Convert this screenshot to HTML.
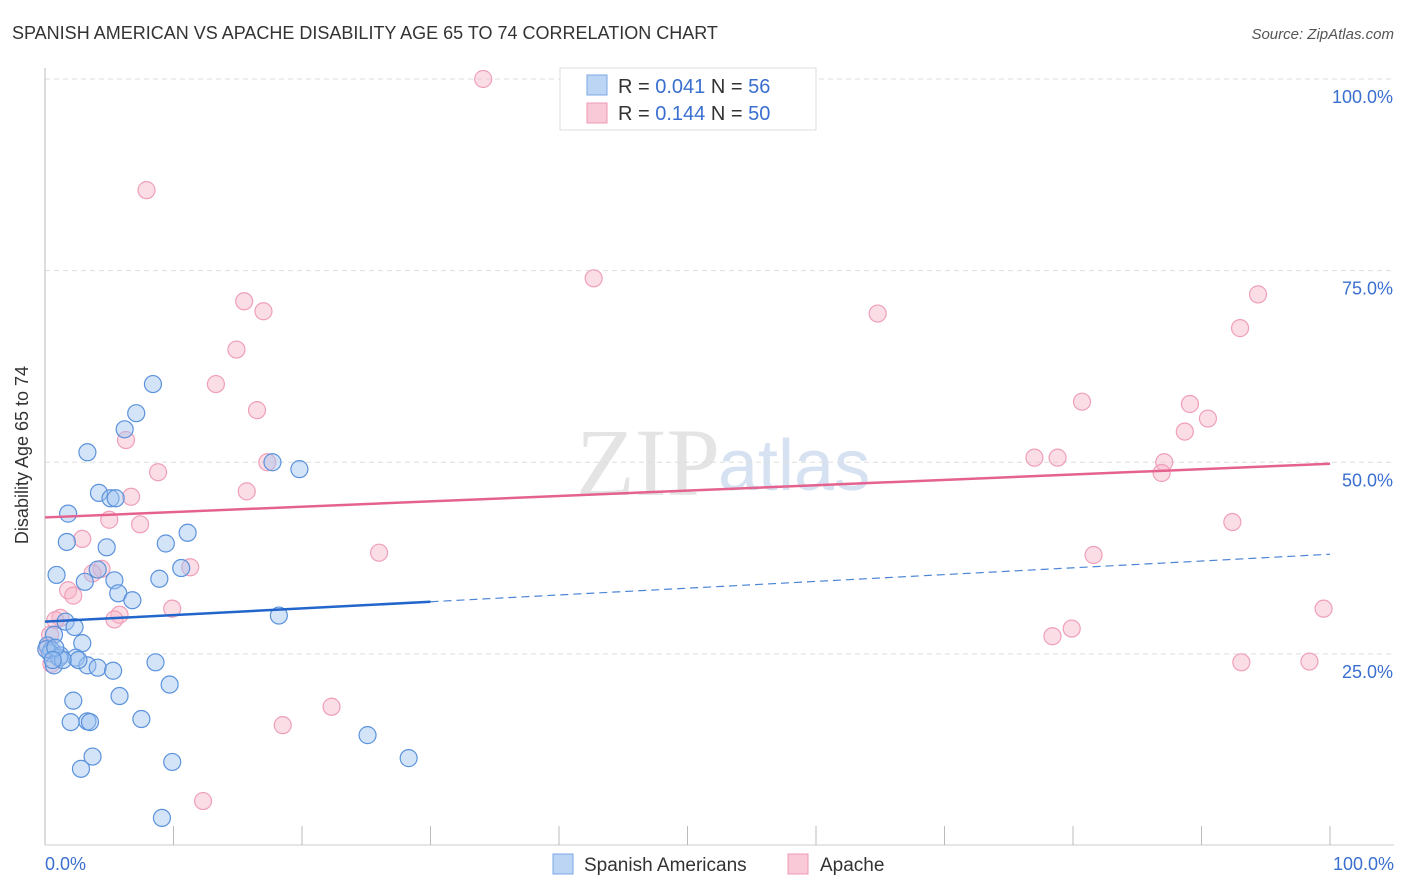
<!DOCTYPE html>
<html><head><meta charset="utf-8"><style>
body{margin:0;background:#fff;font-family:"Liberation Sans",sans-serif;}
#wrap{position:relative;width:1406px;height:892px;overflow:hidden}
</style></head><body>
<div id="wrap">
<svg id="svg" width="1406" height="892" xmlns="http://www.w3.org/2000/svg">
<text x="12" y="39" font-size="18" fill="#333">SPANISH AMERICAN VS APACHE DISABILITY AGE 65 TO 74 CORRELATION CHART</text>
<text x="1394" y="39" font-size="15" fill="#555" font-style="italic" text-anchor="end">Source: ZipAtlas.com</text>
<text x="720" y="495" font-size="96" fill="#e4e4e4" font-family="Liberation Serif,serif" text-anchor="end">ZIP</text>
<text x="718" y="490" font-size="72" fill="#d6e2f2" text-anchor="start">atlas</text>
<g id="grid"></g>
<line x1="45" y1="68" x2="45" y2="845" stroke="#bbb"/>
<line x1="45" y1="845" x2="1394" y2="845" stroke="#ccc"/>
<g id="xticks"></g>
<g id="pts"></g>
<g id="trend"></g>
<text x="28" y="455" font-size="18" fill="#333" text-anchor="middle" transform="rotate(-90 28 455)">Disability Age 65 to 74</text>
<text x="45" y="870" font-size="18" fill="#3a6fd0">0.0%</text>
<text x="1394" y="870" font-size="18" fill="#3a6fd0" text-anchor="end">100.0%</text>
<g>
<rect x="560" y="68" width="256" height="62" fill="#fff" stroke="#ddd"/>
<rect x="587" y="75" width="20" height="20" fill="#bcd5f5" stroke="#7aa7e6"/>
<text x="618" y="93" font-size="20" fill="#333">R = <tspan fill="#3a6fd0">0.041</tspan>   N = <tspan fill="#3a6fd0"> 56</tspan></text>
<rect x="587" y="103" width="20" height="20" fill="#f9c9d7" stroke="#ee99b3"/>
<text x="618" y="120" font-size="20" fill="#333">R = <tspan fill="#3a6fd0"> 0.144</tspan>   N = <tspan fill="#3a6fd0">50</tspan></text>
</g>
<g>
<rect x="553" y="854" width="20" height="20" fill="#bcd5f5" stroke="#7aa7e6"/>
<text x="584" y="871" font-size="19" fill="#333">Spanish Americans</text>
<rect x="788" y="854" width="20" height="20" fill="#f9c9d7" stroke="#ee99b3"/>
<text x="820" y="871" font-size="19" fill="#333">Apache</text>
</g>
</svg>
</div>
<script>
const yTicks=[25,50,75,100];
const yTickLabels=["25.0%","50.0%","75.0%","100.0%"];
const xTickVals=[0,10,20,30,40,50,60,70,80,90,100];
const blueX=[8.4,7.1,6.2,3.3,17.7,19.8,4.2,5.1,5.5,1.8,11.1,9.4,4.8,1.7,10.6,4.1,3.1,5.4,8.9,5.7,0.9,6.8,18.2,1.6,2.3,0.7,2.9,0.2,0.5,1.2,0.4,0.1,2.4,3.3,4.1,5.3,8.6,0.7,2.2,5.8,9.7,2.0,3.3,3.5,7.5,25.1,3.7,2.8,28.3,9.9,9.1,1.1,1.4,0.8,0.6,2.6];
const blueY=[60.2,56.4,54.3,51.3,50.0,49.1,46.0,45.3,45.3,43.3,40.8,39.4,38.9,39.6,36.2,36.0,34.4,34.6,34.8,32.9,35.3,32.0,30.0,29.2,28.5,27.5,26.4,26.1,25.5,24.8,25.1,25.6,24.5,23.5,23.2,22.8,23.9,23.5,18.9,19.5,21.0,16.1,16.2,16.1,16.5,14.4,11.6,10.0,11.4,10.9,3.6,24.5,24.2,25.8,24.2,24.2];
const pinkX=[34.1,7.9,42.7,15.5,17.0,64.8,94.4,93.0,14.9,13.3,16.5,6.3,80.7,89.1,90.5,88.7,8.8,17.3,77.0,78.8,87.1,86.9,15.7,6.7,5.0,7.4,2.9,4.4,11.3,26.0,92.4,81.6,3.7,1.8,2.2,9.9,1.2,5.8,5.4,0.8,78.4,79.9,0.4,0.2,93.1,98.4,99.5,22.3,18.5,12.3,0.5];
const pinkY=[100,85.5,74.0,71.0,69.7,69.4,71.9,67.5,64.7,60.2,56.8,52.9,57.9,57.6,55.7,54.0,48.7,50.0,50.6,50.6,50.0,48.6,46.2,45.5,42.5,41.9,40.0,36.1,36.3,38.2,42.2,37.9,35.5,33.3,32.6,30.9,29.7,30.1,29.5,29.4,27.3,28.3,27.5,25.8,23.9,24.0,30.9,18.1,15.7,5.8,23.7];
const blueTrend=[29.2,31.8];const blueSolidEnd=30;const blueTrendEnd=38.0;
const pinkTrend=[42.8,49.8];
const X=v=>45+v*12.85;
const Y=v=>845.5-v*7.665;
const NS="http://www.w3.org/2000/svg";
function mk(tag,attrs,parent){const e=document.createElementNS(NS,tag);for(const k in attrs)e.setAttribute(k,attrs[k]);parent.appendChild(e);return e;}
const grid=document.getElementById('grid');
yTicks.forEach((t,i)=>{
 const l=mk('line',{x1:45,x2:1394,y1:Y(t),y2:Y(t),stroke:'#ddd','stroke-dasharray':'5,4'},grid);
 
 
 const tx=mk('text',{x:1393,y:Y(t)+24,'font-size':18,fill:'#3a6fd0','text-anchor':'end'},grid);
 tx.textContent=yTickLabels[i];
 
 
});
const xt=document.getElementById('xticks');
xTickVals.forEach(v=>{if(v===0)return;
 const l=mk('line',{x1:X(v),x2:X(v),y1:826,y2:845,stroke:'#bbb'},xt);
 
 
});
const pts=document.getElementById('pts');
pinkX.forEach((x,i)=>{
 const c=mk('circle',{cx:X(x),cy:Y(pinkY[i]),r:8.5,fill:'rgba(246,180,200,0.45)',stroke:'#ef9fba','stroke-width':1.2},pts);
 
 
});
blueX.forEach((x,i)=>{
 const c=mk('circle',{cx:X(x),cy:Y(blueY[i]),r:8.5,fill:'rgba(160,195,240,0.45)',stroke:'#5b92dc','stroke-width':1.2},pts);
 
 
});
const tr=document.getElementById('trend');
const bAt=v=>blueTrend[0]+(blueTrend[1]-blueTrend[0])*v/blueSolidEnd;
const b1=mk('line',{x1:X(0),y1:Y(blueTrend[0]),x2:X(blueSolidEnd),y2:Y(blueTrend[1]),stroke:'#2266cc','stroke-width':2.5},tr);


const b2=mk('line',{x1:X(blueSolidEnd),y1:Y(blueTrend[1]),x2:X(100),y2:Y(blueTrendEnd),stroke:'#4d85d6','stroke-width':1.2,'stroke-dasharray':'8,5'},tr);


const p1=mk('line',{x1:X(0),y1:Y(pinkTrend[0]),x2:X(100),y2:Y(pinkTrend[1]),stroke:'#e5628e','stroke-width':2.5},tr);


</script>
</body></html>
